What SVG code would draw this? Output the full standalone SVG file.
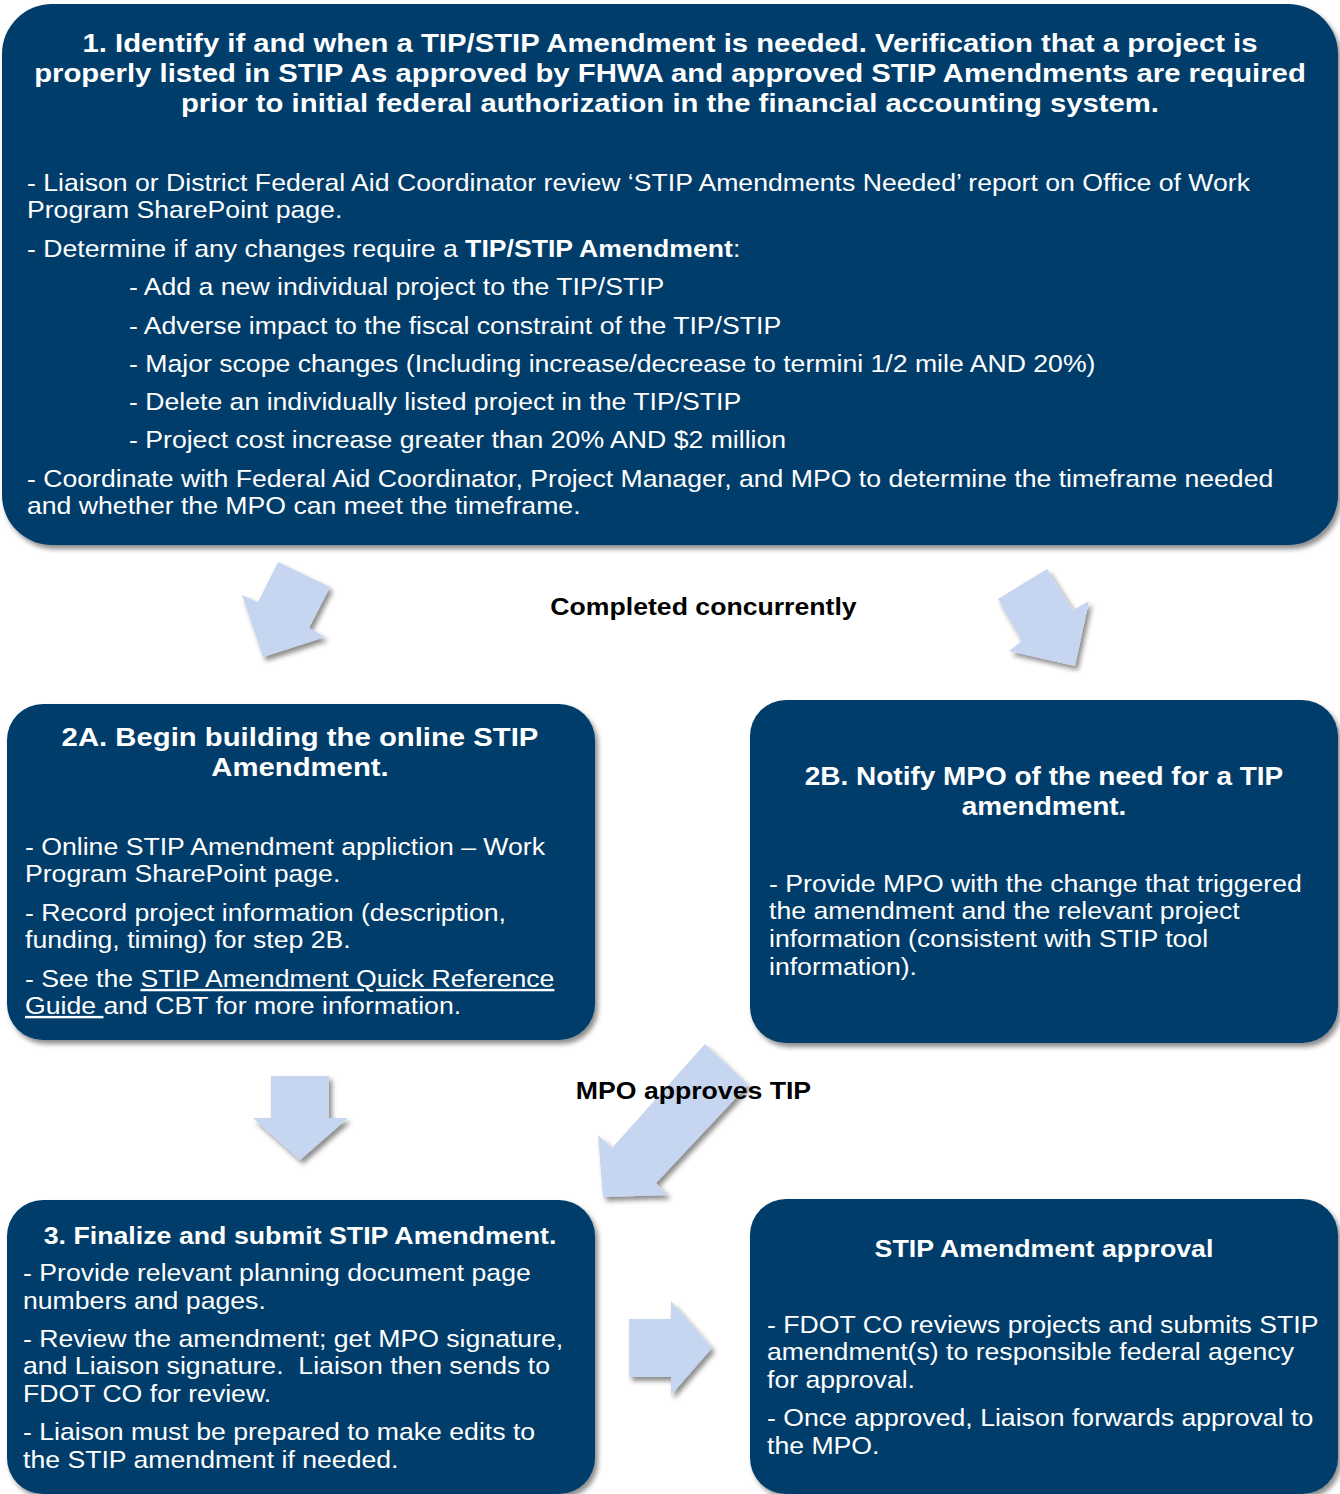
<svg xmlns="http://www.w3.org/2000/svg" width="1340" height="1494" viewBox="0 0 1340 1494">
<defs>
<filter id="sh" x="-10%" y="-10%" width="125%" height="125%">
<feDropShadow dx="3" dy="4" stdDeviation="2.5" flood-color="#000" flood-opacity="0.45"/>
</filter>
<style>
.box{fill:#023E6A;filter:url(#sh)}
.arr{fill:#C6D6F1;filter:url(#sh)}
text{font-family:"Liberation Sans",Arial,sans-serif;fill:#fff}
.t{font-weight:bold;text-anchor:middle}
.t1{font-size:26.4px}
.t2{font-size:25.2px}
.t3{font-size:24.1px}
.b{font-size:24px}
.lbl{font-size:24px;font-weight:bold;fill:#000;text-anchor:middle}
.u{text-decoration:underline}
</style>
</defs>
<rect width="1340" height="1494" fill="#fff"/>

<g id="connectors">
<polygon class="arr" points="278,562 330,587 309,628 325,637 263,657 242,595 258,602"/>
<polygon class="arr" points="1047,569 998,599 1022,641 1009,651 1075,666 1089,601 1073,610"/>
<polygon class="arr" points="271,1076 329,1076 329,1118 348,1118 300,1160 253,1118 271,1118"/>
<polygon class="arr" points="705,1044 748,1085 656,1183 668,1195 603,1197 598,1135 612,1148"/>
<polygon class="arr" points="629,1319 671,1319 671,1301 712,1348 671,1395 671,1377 629,1377"/>
<text class="lbl" x="703.5" y="615" transform="matrix(1.11 0 0 1 -77.39 0)">Completed concurrently</text>
<text class="lbl" x="693.5" y="1099" transform="matrix(1.11 0 0 1 -76.29 0)">MPO approves TIP</text>
</g>

<g id="node1">
<rect class="box" x="2" y="4" width="1336" height="541" rx="50" ry="50"/>
<g transform="matrix(1.11 0 0 1 -73.7 0)">
<text class="t t1" x="670" y="52">1. Identify if and when a TIP/STIP Amendment is needed. Verification that a project is</text>
<text class="t t1" x="670" y="82">properly listed in STIP As approved by FHWA and approved STIP Amendments are required</text>
<text class="t t1" x="670" y="112">prior to initial federal authorization in the financial accounting system.</text>
</g>
<g transform="matrix(1.11 0 0 1 -2.97 0)">
<text class="b" x="27" y="191">- Liaison or District Federal Aid Coordinator review ‘STIP Amendments Needed’ report on Office of Work</text>
<text class="b" x="27" y="218">Program SharePoint page.</text>
<text class="b" x="27" y="257">- Determine if any changes require a <tspan font-weight="bold">TIP/STIP Amendment</tspan>:</text>
<text class="b" x="27" y="487">- Coordinate with Federal Aid Coordinator, Project Manager, and MPO to determine the timeframe needed</text>
<text class="b" x="27" y="514">and whether the MPO can meet the timeframe.</text>
</g>
<g transform="matrix(1.11 0 0 1 -14.19 0)">
<text class="b" x="129" y="295">- Add a new individual project to the TIP/STIP</text>
<text class="b" x="129" y="334">- Adverse impact to the fiscal constraint of the TIP/STIP</text>
<text class="b" x="129" y="372">- Major scope changes (Including increase/decrease to termini 1/2 mile AND 20%)</text>
<text class="b" x="129" y="410">- Delete an individually listed project in the TIP/STIP</text>
<text class="b" x="129" y="448">- Project cost increase greater than 20% AND $2 million</text>
</g>
</g>

<g id="node2A">
<rect class="box" x="7" y="704" width="588" height="336" rx="36" ry="36"/>
<g transform="matrix(1.11 0 0 1 -33 0)">
<text class="t t1" x="300" y="746">2A. Begin building the online STIP</text>
<text class="t t1" x="300" y="776">Amendment.</text>
</g>
<g transform="matrix(1.11 0 0 1 -2.75 0)">
<text class="b" x="25" y="855">- Online STIP Amendment appliction – Work</text>
<text class="b" x="25" y="882">Program SharePoint page.</text>
<text class="b" x="25" y="921">- Record project information (description,</text>
<text class="b" x="25" y="948">funding, timing) for step 2B.</text>
<text class="b" x="25" y="987">- See the <tspan class="u">STIP Amendment Quick Reference</tspan></text>
<text class="b" x="25" y="1014"><tspan class="u">Guide </tspan>and CBT for more information.</text>
</g>
</g>

<g id="node2B">
<rect class="box" x="750" y="700" width="588" height="343" rx="36" ry="36"/>
<g transform="matrix(1.11 0 0 1 -114.84 0)">
<text class="t t2" x="1044" y="785">2B. Notify MPO of the need for a TIP</text>
<text class="t t2" x="1044" y="815">amendment.</text>
</g>
<g transform="matrix(1.11 0 0 1 -84.59 0)">
<text class="b" x="769" y="892">- Provide MPO with the change that triggered</text>
<text class="b" x="769" y="919">the amendment and the relevant project</text>
<text class="b" x="769" y="947">information (consistent with STIP tool</text>
<text class="b" x="769" y="975">information).</text>
</g>
</g>

<g id="node3">
<rect class="box" x="7" y="1200" width="588" height="294" rx="36" ry="36"/>
<text class="t t3" x="300" y="1244" transform="matrix(1.11 0 0 1 -33 0)">3. Finalize and submit STIP Amendment.</text>
<g transform="matrix(1.11 0 0 1 -2.53 0)">
<text class="b" x="23" y="1281">- Provide relevant planning document page</text>
<text class="b" x="23" y="1309">numbers and pages.</text>
<text class="b" x="23" y="1347">- Review the amendment; get MPO signature,</text>
<text class="b" x="23" y="1374" xml:space="preserve">and Liaison signature.  Liaison then sends to</text>
<text class="b" x="23" y="1402">FDOT CO for review.</text>
<text class="b" x="23" y="1440">- Liaison must be prepared to make edits to</text>
<text class="b" x="23" y="1468">the STIP amendment if needed.</text>
</g>
</g>

<g id="node4">
<rect class="box" x="750" y="1199" width="588" height="295" rx="36" ry="36"/>
<text class="t t3" x="1044" y="1257" transform="matrix(1.11 0 0 1 -114.84 0)">STIP Amendment approval</text>
<g transform="matrix(1.11 0 0 1 -84.37 0)">
<text class="b" x="767" y="1333">- FDOT CO reviews projects and submits STIP</text>
<text class="b" x="767" y="1360">amendment(s) to responsible federal agency</text>
<text class="b" x="767" y="1388">for approval.</text>
<text class="b" x="767" y="1426">- Once approved, Liaison forwards approval to</text>
<text class="b" x="767" y="1454">the MPO.</text>
</g>
</g>
</svg>
